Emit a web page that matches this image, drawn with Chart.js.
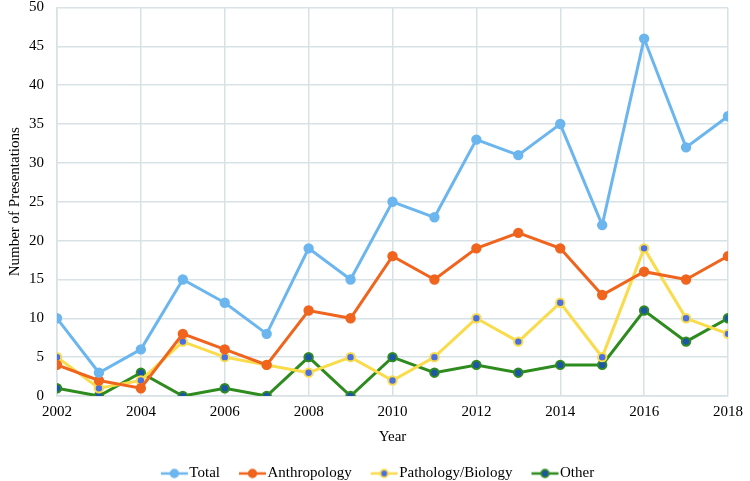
<!DOCTYPE html>
<html>
<head>
<meta charset="utf-8">
<script src="https://cdn.jsdelivr.net/npm/chart.js@4/dist/chart.umd.min.js"></script>
<style>
  html, body { margin: 0; padding: 0; background: #fff; }
  #wrap { width: 750px; height: 481px; }
</style>
</head>
<body>
<div id="wrap"><canvas id="chart"></canvas></div>
<script>
const years = [2002, 2003, 2004, 2005, 2006, 2007, 2008, 2009, 2010, 2011, 2012, 2013, 2014, 2015, 2016, 2017, 2018];
const total = [10, 3, 6, 15, 12, 8, 19, 15, 25, 23, 33, 31, 35, 22, 46, 32, 36];
const anthropology = [4, 2, 1, 8, 6, 4, 11, 10, 18, 15, 19, 21, 19, 13, 16, 15, 18];
const pathology = [5, 1, 2, 7, 5, 4, 3, 5, 2, 5, 10, 7, 12, 5, 19, 10, 8];
const other = [1, 0, 3, 0, 1, 0, 5, 0, 5, 3, 4, 3, 4, 4, 11, 7, 10];

const serif = "'Liberation Serif', 'Times New Roman', serif";
const gridColor = '#d8e1e6';

function toPoints(values) {
  return values.map((v, i) => ({ x: years[i], y: v }));
}

// line-with-dot swatch for the legend (wider than the legend box on purpose,
// so the text sits right against the line like in the original)
function legendSwatch(line, fill) {
  const c = document.createElement('canvas');
  c.width = 40;
  c.height = 12;
  const g = c.getContext('2d');
  g.strokeStyle = line;
  g.lineWidth = 2.5;
  g.beginPath();
  g.moveTo(9, 6);
  g.lineTo(36, 6);
  g.stroke();
  g.beginPath();
  g.arc(22.5, 6, 3.8, 0, Math.PI * 2);
  g.fillStyle = fill;
  g.fill();
  g.lineWidth = 1.8;
  g.strokeStyle = line;
  g.stroke();
  return c;
}

function series(label, values, color, dot) {
  return {
    label: label,
    data: toPoints(values),
    borderColor: color,
    backgroundColor: color,
    borderWidth: 3,
    pointStyle: 'circle',
    pointRadius: 4.2,
    pointBorderWidth: 2,
    pointBackgroundColor: dot,
    pointBorderColor: color,
    swatch: legendSwatch(color, dot),
    tension: 0
  };
}

const ctx = document.getElementById('chart').getContext('2d');
const chart = new Chart(ctx, {
  type: 'line',
  data: {
    datasets: [
      series('Total', total, '#6cb6ef', '#6cb6ef'),
      series('Anthropology', anthropology, '#f0641e', '#f0641e'),
      series('Pathology/Biology', pathology, '#fadb4a', '#4a6fe0'),
      series('Other', other, '#2e8b1e', '#1d55a8')
    ]
  },
  options: {
    responsive: true,
    maintainAspectRatio: false,
    animation: false,
    layout: { padding: { left: 6, right: 0, top: 0, bottom: -10 } },
    plugins: {
      tooltip: { enabled: false },
      legend: {
        position: 'bottom',
        labels: {
          usePointStyle: true,
          pointStyleWidth: 20,
          padding: 20,
          color: '#000',
          font: { family: serif, size: 15 },
          generateLabels: function (chart) {
            const items = Chart.defaults.plugins.legend.labels.generateLabels(chart);
            items.forEach(it => {
              it.pointStyle = chart.data.datasets[it.datasetIndex].swatch;
            });
            return items;
          }
        }
      }
    },
    scales: {
      x: {
        type: 'linear',
        min: 2002,
        max: 2018,
        grid: { color: gridColor, lineWidth: 1.5, drawTicks: false },
        border: { color: gridColor, width: 1.5 },
        ticks: {
          stepSize: 2,
          padding: 7,
          color: '#000',
          font: { family: serif, size: 15 },
          callback: v => String(v)
        },
        title: {
          display: true,
          text: 'Year',
          color: '#000',
          padding: { top: 0, bottom: 0 },
          font: { family: serif, size: 15 }
        }
      },
      y: {
        min: 0,
        max: 50,
        grid: { color: gridColor, lineWidth: 1.5, drawTicks: true, tickLength: 13, tickColor: 'rgba(0,0,0,0)' },
        border: { color: gridColor, width: 1.5 },
        ticks: {
          stepSize: 5,
          padding: 0,
          color: '#000',
          font: { family: serif, size: 15, lineHeight: 1 }
        },
        title: {
          display: true,
          text: 'Number of Presentations',
          color: '#000',
          padding: { top: 0, bottom: 5 },
          font: { family: serif, size: 15 }
        }
      }
    }
  }
});
</script>
</body>
</html>
